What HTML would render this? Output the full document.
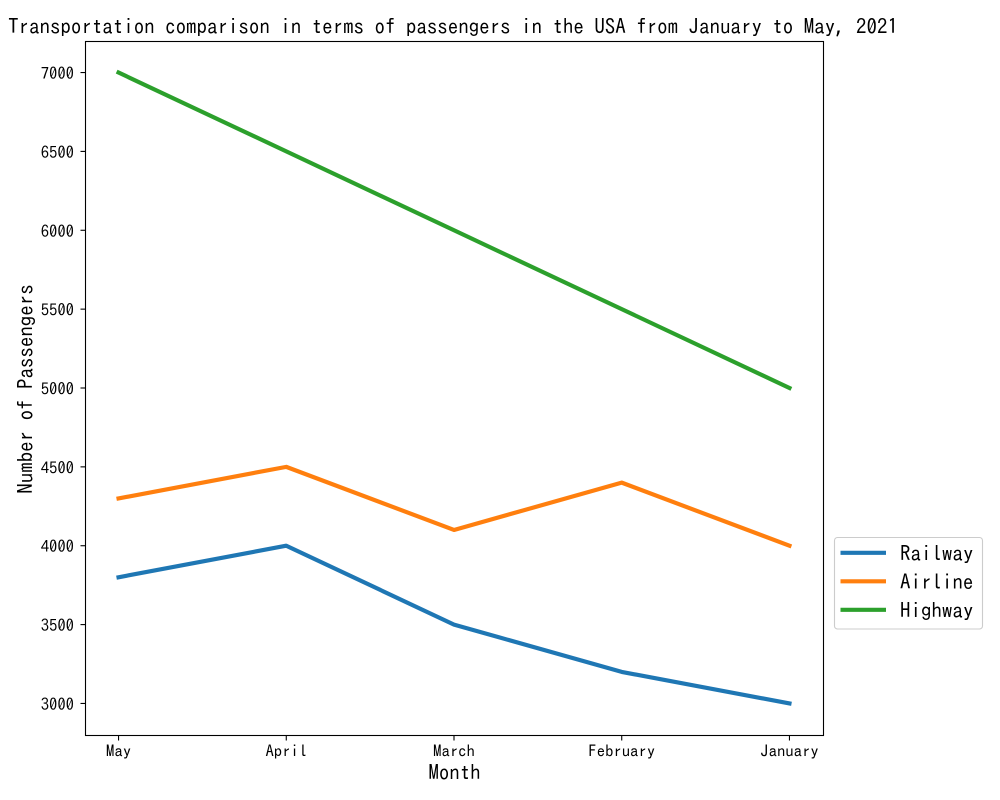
<!DOCTYPE html>
<html lang="en">
<head>
<meta charset="utf-8">
<title>Transportation comparison</title>
<style>
html,body{margin:0;padding:0;background:#fff;width:1000px;height:800px;overflow:hidden}
svg{display:block}
text{font-family:"IPAGothic","WenQuanYi Zen Hei",monospace;fill:#000}
</style>
</head>
<body>
<svg id="chart" xmlns="http://www.w3.org/2000/svg" width="1000" height="800" viewBox="0 0 1000 800">
  <text x="453" y="34" font-size="20.95" text-anchor="middle">Transportation comparison in terms of passengers in the USA from January to May, 2021</text>
  <g id="ticks"></g>
  <g id="series"></g>
  <rect x="85.5" y="41.5" width="738" height="694" fill="none" stroke="#000" stroke-width="1.1"/>
  <text x="454.5" y="780" font-size="20.83" text-anchor="middle">Month</text>
  <text transform="translate(33,389) rotate(-90)" font-size="20.95" text-anchor="middle">Number of Passengers</text>
  <g>
    <rect x="834.5" y="537.5" width="148" height="91.5" rx="3" fill="#fff" stroke="#ccc" stroke-width="1.1"/>
    <g id="legend-entries"></g>
  </g>
</svg>
<script>
const categories = ["May", "April", "March", "February", "January"];
const railway = [3800, 4000, 3500, 3200, 3000];
const airline = [4300, 4500, 4100, 4400, 4000];
const highway = [7000, 6500, 6000, 5500, 5000];
const yTickLabels = [3000, 3500, 4000, 4500, 5000, 5500, 6000, 6500, 7000];
const seriesNames = ["Railway", "Airline", "Highway"];

const NS = "http://www.w3.org/2000/svg";
const plot = {left: 85, right: 823, top: 41, bottom: 735};
const yMin = 2800, yMax = 7200;
const colors = ["#1f77b4", "#ff7f0e", "#2ca02c"];
const allSeries = [railway, airline, highway];

function xScale(i) {
  const pad = 0.2;
  const span = categories.length - 1 + 2 * pad;
  return plot.left + (i + pad) / span * (plot.right - plot.left);
}
function yScale(v) {
  return plot.bottom - (v - yMin) / (yMax - yMin) * (plot.bottom - plot.top);
}
function make(tag, attrs, parent) {
  const el = document.createElementNS(NS, tag);
  Object.keys(attrs).forEach(function (k) { el.setAttribute(k, attrs[k]); });
  parent.appendChild(el);
  return el;
}

const ticksGroup = document.getElementById("ticks");
categories.forEach(function (c, i) {
  const x = xScale(i);
  const tick = make("line", {x1: x, x2: x, y1: plot.bottom, y2: plot.bottom + 5.5, stroke: "#000", "stroke-width": 1.1}, ticksGroup);
  
  
  const label = make("text", {x: x, y: 757, "font-size": 16.67, "text-anchor": "middle"}, ticksGroup);
  
  
  label.textContent = c;
});
yTickLabels.forEach(function (v) {
  const y = yScale(v);
  const tick = make("line", {x1: plot.left - 4.5, x2: plot.left, y1: y, y2: y, stroke: "#000", "stroke-width": 1.1}, ticksGroup);
  
  
  const label = make("text", {x: 74, y: y + 7, "font-size": 16.67, "text-anchor": "end"}, ticksGroup);
  
  
  label.textContent = v;
});

const seriesGroup = document.getElementById("series");
allSeries.forEach(function (values, s) {
  const pts = values.map(function (v, i) { return xScale(i) + "," + yScale(v); }).join(" ");
  const line = make("polyline", {points: pts, fill: "none", stroke: colors[s], "stroke-width": 4.17, "stroke-linecap": "square", "stroke-linejoin": "round"}, seriesGroup);
  
  
});

const legendGroup = document.getElementById("legend-entries");
seriesNames.forEach(function (name, s) {
  const y = 552.8 + s * 28.5;
  const swatch = make("line", {x1: 840.5, x2: 886, y1: y, y2: y, stroke: colors[s], "stroke-width": 4.17}, legendGroup);
  
  
  const label = make("text", {x: 900, y: y + 8, "font-size": 20.95}, legendGroup);
  
  
  label.textContent = name;
});
</script>
</body>
</html>
